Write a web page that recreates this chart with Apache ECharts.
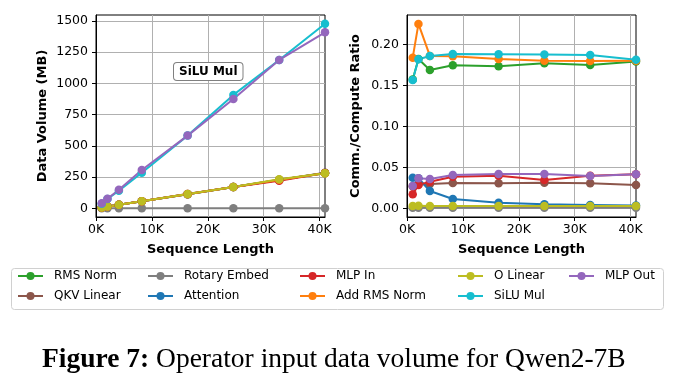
<!DOCTYPE html>
<html>
<head>
<meta charset="utf-8">
<script src="https://cdn.jsdelivr.net/npm/echarts@6/dist/echarts.min.js"></script>
<style>html,body{margin:0;padding:0;background:#fff;}#c{width:678px;height:383px;}</style>
</head>
<body>
<div id="c"></div>
<script>
// ---- data ----
const seqLen = [1024, 2048, 4096, 8192, 16384, 24576, 32768, 40960];
const seriesNames = ['RMS Norm', 'QKV Linear', 'Rotary Embed', 'Attention', 'MLP In', 'Add RMS Norm', 'O Linear', 'SiLU Mul', 'MLP Out'];
const seriesColors = ['#2ca02c', '#8c564b', '#7f7f7f', '#1f77b4', '#d62728', '#ff7f0e', '#bcbd22', '#17becf', '#9467bd'];
// Data volume (MB)
const volRmsNorm    = [7, 14, 28, 56, 113, 170, 228, 281];
const volQkvLinear  = [7, 14, 28, 57, 114, 171, 226, 284];
const volRotary     = [0.5, 0.5, 0.5, 0.5, 0.5, 0.5, 0.5, 0.5];
const volAttention  = [7, 14, 28, 56, 113, 170, 227, 282];
const volMlpIn      = [7, 14, 28, 57, 114, 171, 220, 282];
const volAddRmsNorm = [7, 14, 28, 56, 113, 170, 228, 281];
const volOLinear    = [7, 14, 28, 57, 114, 171, 233, 280];
const volSiluMul    = [37, 74, 140, 285, 582, 908, 1188, 1478];
const volMlpOut     = [40, 76, 148, 307, 582, 875, 1188, 1409];
// Comm./Compute ratio
const ratRmsNorm    = [0.157, 0.182, 0.1687, 0.1744, 0.1732, 0.1768, 0.1748, 0.179];
const ratQkvLinear  = [0.027, 0.029, 0.0297, 0.0309, 0.0305, 0.0313, 0.0305, 0.0285];
const ratRotary     = [0.0008, 0.0008, 0.0008, 0.0008, 0.0008, 0.0008, 0.0008, 0.0008];
const ratAttention  = [0.0374, 0.0366, 0.0211, 0.0114, 0.0069, 0.0049, 0.0041, 0.0033];
const ratMlpIn      = [0.0171, 0.0285, 0.0325, 0.0386, 0.0398, 0.0346, 0.0398, 0.0415];
const ratAddRmsNorm = [0.1837, 0.2248, 0.1858, 0.1855, 0.182, 0.180, 0.1797, 0.180];
const ratOLinear    = [0.0029, 0.0030, 0.0029, 0.0028, 0.0028, 0.0029, 0.0028, 0.0028];
const ratSiluMul    = [0.1565, 0.1817, 0.1858, 0.188, 0.1878, 0.1874, 0.187, 0.181];
const ratMlpOut     = [0.0272, 0.0366, 0.0358, 0.0407, 0.0419, 0.0419, 0.0394, 0.0415];
const xTicks = [0, 10000, 20000, 30000, 40000];
const volTicks = [0, 250, 500, 750, 1000, 1250, 1500];
const ratTicks = [0, 0.05, 0.10, 0.15, 0.20];

const volData = [volRmsNorm, volQkvLinear, volRotary, volAttention, volMlpIn, volAddRmsNorm, volOLinear, volSiluMul, volMlpOut];
const ratData = [ratRmsNorm, ratQkvLinear, ratRotary, ratAttention, ratMlpIn, ratAddRmsNorm, ratOLinear, ratSiluMul, ratMlpOut];

const FONT = 'DejaVu Sans';
const chart = echarts.init(document.getElementById('c'), null, {renderer: 'canvas'});

function xAxis(gi) {
  return {
    type: 'value', gridIndex: gi, min: 0, max: 40960,
    name: 'Sequence Length', nameLocation: 'middle', nameGap: 26,
    nameTextStyle: {fontFamily: FONT, fontSize: 13, fontWeight: 'bold', color: '#000'},
    axisLine: {show: true, onZero: false, lineStyle: {color: '#000', width: 1}},
    axisTick: {show: true, length: 4, lineStyle: {color: '#000'}, customValues: xTicks},
    axisLabel: {fontFamily: FONT, fontSize: 12.5, color: '#000', margin: 6, customValues: xTicks,
      formatter: v => (v / 1000) + 'K'},
    splitLine: {show: true, lineStyle: {color: '#b0b0b0', width: 1}}
  };
}
function yAxis(gi, min, max, ticks, name, gap, fmt) {
  return {
    type: 'value', gridIndex: gi, min: min, max: max,
    name: name, nameLocation: 'middle', nameGap: gap,
    nameTextStyle: {fontFamily: FONT, fontSize: 13, fontWeight: 'bold', color: '#000'},
    axisLine: {show: true, onZero: false, lineStyle: {color: '#000', width: 1}},
    axisTick: {show: true, length: 4, lineStyle: {color: '#000'}, customValues: ticks},
    axisLabel: {fontFamily: FONT, fontSize: 12.5, color: '#000', margin: 8, customValues: ticks, formatter: fmt},
    splitLine: {show: true, lineStyle: {color: '#b0b0b0', width: 1}}
  };
}

const series = [];
seriesNames.forEach((n, i) => {
  series.push({
    name: n, type: 'line', xAxisIndex: 0, yAxisIndex: 0,
    data: seqLen.map((x, j) => [x, volData[i][j]]),
    symbol: 'circle', symbolSize: 8.5, showSymbol: true,
    lineStyle: {width: 2, color: seriesColors[i]}, itemStyle: {color: seriesColors[i]},
    animation: false, clip: false
  });
  series.push({
    name: n, type: 'line', xAxisIndex: 1, yAxisIndex: 1,
    data: seqLen.map((x, j) => [x, ratData[i][j]]),
    symbol: 'circle', symbolSize: 8.5, showSymbol: true,
    lineStyle: {width: 2, color: seriesColors[i]}, itemStyle: {color: seriesColors[i]},
    animation: false, clip: false
  });
});

const legendCols = [17, 147, 299, 457, 568];
const legendRows = [270, 290];
const legends = seriesNames.map((n, i) => ({
  data: [n], left: legendCols[Math.floor(i / 2)], top: legendRows[i % 2],
  orient: 'horizontal', padding: 0, itemWidth: 25, itemHeight: 10, itemGap: 0,
  textStyle: {fontFamily: FONT, fontSize: 12, color: '#000', padding: [0, 0, 0, 6]},
  selectedMode: false
}));

chart.setOption({
  animation: false,
  backgroundColor: '#fff',
  color: seriesColors,
  grid: [
    {left: 96, top: 15, width: 229, height: 202, show: true, borderColor: '#000', borderWidth: 1, backgroundColor: 'transparent'},
    {left: 407, top: 15, width: 229, height: 202, show: true, borderColor: '#000', borderWidth: 1, backgroundColor: 'transparent'}
  ],
  xAxis: [xAxis(0), xAxis(1)],
  yAxis: [
    yAxis(0, -70, 1548, volTicks, 'Data Volume (MB)', 47, v => String(v)),
    yAxis(1, -0.0106, 0.2357, ratTicks, 'Comm./Compute Ratio', 45, v => v.toFixed(2))
  ],
  legend: legends,
  title: {
    text: '{b|Figure 7:} {n|Operator input data volume for Qwen2-7B}',
    left: 42, top: 346, padding: 0,
    textStyle: {fontWeight: 'normal', fontFamily: 'Liberation Serif', fontSize: 27.5, color: '#000', rich: {
      b: {fontFamily: 'Liberation Serif', fontSize: 27.5, fontWeight: 'bold', color: '#000'},
      n: {fontFamily: 'Liberation Serif', fontSize: 27.5, fontWeight: 'normal', color: '#000'}
    }}
  },
  graphic: [
    {type: 'rect', left: 11, top: 268, z: -1, shape: {width: 652, height: 41, r: 3},
     style: {fill: '#fff', stroke: '#d0d0d0', lineWidth: 1}},
    {type: 'text', left: 173, top: 62, z: 100,
     style: {text: 'SiLU Mul', fontFamily: FONT, fontSize: 12, fontWeight: 'bold', fill: '#000',
       backgroundColor: '#fff', borderColor: '#808080', borderWidth: 1, borderRadius: 3, padding: [3, 5, 2, 5]}}
  ],
  series: series
});
</script>
</body>
</html>
